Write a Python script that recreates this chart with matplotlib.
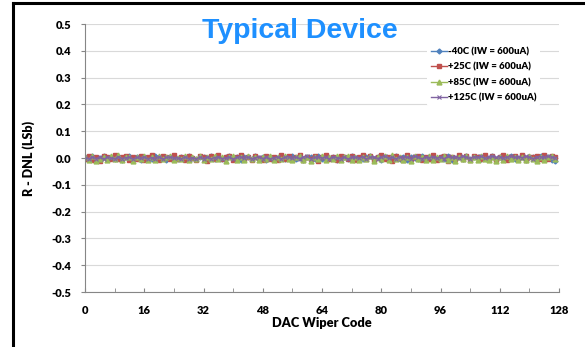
import matplotlib
matplotlib.use("Agg")
import matplotlib.pyplot as plt
from matplotlib.lines import Line2D

plt.rcParams['font.family'] = ['Lato', 'DejaVu Sans']

# DAC wiper codes
codes = list(range(128))

# R-DNL (LSb) per temperature
dnl_m40 = [
    0.002, -0.004, 0.006, -0.003, 0.001, 0.008, -0.005, 0.003, -0.002, 0.005, -0.006, 0.004, 0.009, -0.003, 0.002, -0.007,
    0.005, 0.001, -0.004, 0.006, -0.002, 0.003, -0.008, 0.004, 0.007, -0.003, 0.002, -0.005, 0.006, 0.000, -0.004, 0.005,
    0.003, -0.006, 0.008, -0.002, 0.001, -0.005, 0.004, 0.006, -0.003, 0.002, -0.007, 0.005, 0.003, -0.004, 0.007, -0.001,
    0.002, -0.006, 0.004, 0.001, -0.003, 0.006, -0.005, 0.003, 0.008, -0.002, 0.000, -0.006, 0.005, 0.002, -0.004, 0.007,
    -0.003, 0.004, -0.001, 0.005, -0.006, 0.002, 0.003, -0.004, 0.006, -0.002, 0.001, -0.005, 0.004, 0.007, -0.003, 0.002,
    -0.006, 0.005, 0.001, -0.004, 0.008, -0.002, 0.003, -0.007, 0.004, 0.000, -0.003, 0.006, -0.005, 0.002, 0.005, -0.004,
    0.003, -0.002, 0.006, -0.006, 0.001, 0.004, -0.003, 0.007, -0.005, 0.002, 0.003, -0.004, 0.005, -0.001, 0.008, -0.006,
    0.002, 0.004, -0.003, 0.006, -0.005, 0.001, 0.003, -0.007, 0.005, 0.002, -0.004, 0.009, -0.002, 0.004, -0.008, -0.012,
]
dnl_p25 = [
    -0.003, 0.007, -0.008, 0.004, -0.010, 0.006, 0.002, -0.005, 0.011, -0.004, 0.003, 0.009, -0.006, 0.005, -0.002, 0.008,
    -0.007, 0.004, 0.010, -0.003, -0.009, 0.006, 0.002, -0.005, 0.012, -0.004, 0.003, -0.008, 0.007, 0.001, -0.006, 0.009,
    0.004, -0.010, 0.006, -0.002, 0.011, -0.005, 0.003, 0.008, -0.007, 0.002, 0.010, -0.004, 0.005, -0.009, 0.007, 0.001,
    -0.006, 0.009, -0.003, 0.004, -0.008, 0.012, -0.002, 0.006, -0.005, 0.003, 0.010, -0.007, 0.004, -0.002, 0.008, -0.010,
    0.005, 0.011, -0.004, 0.002, -0.007, 0.009, 0.003, -0.005, 0.006, -0.009, 0.004, 0.010, -0.003, 0.007, -0.006, 0.002,
    0.012, -0.005, 0.003, -0.011, 0.008, 0.001, -0.006, 0.010, -0.003, 0.005, 0.009, -0.008, 0.004, -0.002, 0.011, -0.006,
    0.003, 0.007, -0.010, 0.005, -0.004, 0.012, -0.002, 0.006, -0.007, 0.009, 0.002, -0.005, 0.013, -0.004, 0.006, -0.009,
    0.004, 0.010, -0.006, 0.003, 0.008, -0.004, 0.011, -0.007, 0.005, 0.002, 0.009, -0.005, 0.012, -0.003, 0.006, 0.004,
]
dnl_p85 = [
    0.004, -0.006, 0.009, -0.010, -0.004, 0.003, -0.008, 0.006, -0.002, 0.010, -0.007, 0.002, 0.005, -0.011, 0.004, -0.003,
    0.008, -0.006, 0.002, -0.009, 0.006, -0.004, 0.003, 0.009, -0.007, 0.001, -0.005, 0.007, -0.008, 0.004, -0.002, 0.006,
    -0.009, 0.003, -0.005, 0.008, -0.003, 0.005, -0.010, 0.002, 0.007, -0.006, 0.004, -0.008, 0.009, -0.004, 0.002, -0.007,
    0.005, -0.003, 0.008, -0.009, 0.003, -0.005, 0.006, -0.002, -0.008, 0.004, 0.007, -0.006, 0.003, -0.010, 0.005, -0.004,
    0.008, -0.007, 0.002, -0.005, 0.006, -0.009, 0.004, 0.009, -0.006, 0.003, -0.008, 0.005, -0.003, 0.007, -0.010, 0.002,
    -0.005, 0.006, -0.008, 0.010, -0.004, 0.003, -0.007, 0.005, -0.010, 0.008, -0.002, 0.004, -0.006, 0.009, -0.009, 0.003,
    -0.004, 0.007, -0.008, 0.002, -0.011, 0.005, -0.003, 0.008, -0.006, 0.004, -0.009, 0.006, -0.002, -0.008, 0.005, -0.012,
    0.003, -0.006, 0.007, -0.004, 0.002, -0.009, 0.005, -0.007, 0.008, -0.003, -0.010, 0.004, -0.006, 0.002, 0.007, -0.005,
]
dnl_p125 = [
    0.001, -0.003, 0.004, -0.002, 0.003, -0.004, 0.002, 0.000, -0.003, 0.005, -0.002, 0.001, 0.003, -0.004, 0.002, -0.001,
    0.004, -0.003, 0.001, -0.002, 0.005, -0.004, 0.002, 0.003, -0.001, 0.000, -0.003, 0.004, -0.002, 0.001, -0.004, 0.003,
    -0.002, 0.004, -0.003, 0.001, 0.005, -0.002, 0.000, 0.003, -0.004, 0.002, 0.004, -0.001, 0.003, -0.003, 0.001, 0.005,
    -0.002, 0.003, -0.004, 0.001, 0.004, -0.003, 0.002, 0.005, -0.001, 0.003, -0.002, 0.004, 0.006, -0.003, 0.002, 0.004,
    -0.001, 0.003, -0.003, 0.005, 0.001, -0.002, 0.004, -0.004, 0.002, 0.003, -0.001, 0.005, -0.003, 0.002, 0.004, -0.002,
    0.003, 0.006, -0.001, 0.002, -0.003, 0.005, 0.001, 0.004, -0.002, 0.007, 0.002, -0.003, 0.004, 0.001, 0.005, -0.001,
    0.003, -0.002, 0.006, 0.002, 0.004, -0.001, 0.008, 0.003, -0.002, 0.005, 0.002, 0.006, -0.001, 0.004, 0.007, 0.002,
    0.005, -0.001, 0.003, 0.006, 0.002, 0.004, 0.001, 0.007, 0.003, -0.002, 0.005, 0.004, 0.002, 0.006, 0.003, 0.001,
]

series_labels = ['-40C (IW = 600uA)', '+25C (IW = 600uA)', '+85C (IW = 600uA)', '+125C (IW = 600uA)']
y_ticks = [-0.5, -0.4, -0.3, -0.2, -0.1, 0.0, 0.1, 0.2, 0.3, 0.4, 0.5]
x_ticks = [0, 16, 32, 48, 64, 80, 96, 112, 128]

fig = plt.figure(figsize=(5.85, 3.47), dpi=100)
ax = fig.add_axes([0.1453, 0.1585, 0.8103, 0.7723])

styles = [
    dict(color='#4F81BD', marker='D', markersize=2.5),
    dict(color='#C0504D', marker='s', markersize=3.5),
    dict(color='#9BBB59', marker='^', markersize=3.5),
    dict(color='#8064A2', marker='x', markersize=3.5, markeredgewidth=0.8),
]
for vals, lab, st in zip([dnl_m40, dnl_p25, dnl_p85, dnl_p125], series_labels, styles):
    ax.plot(codes, vals, linewidth=1.0, label=lab, **st)

ax.set_xlim(0, 128)
ax.set_ylim(-0.5, 0.5)
ax.set_yticks(y_ticks)
ax.set_yticklabels([f'{v:.1f}' for v in y_ticks])
ax.set_xticks(x_ticks)
ax.set_xticks(list(range(0, 129, 8)), minor=True)
ax.grid(axis='y', color='#D9D9D9', linewidth=0.8)
ax.set_axisbelow(True)

for s in ['top', 'right']:
    ax.spines[s].set_visible(False)
for s in ['left', 'bottom']:
    ax.spines[s].set_color('#868686')
    ax.spines[s].set_linewidth(0.8)
ax.tick_params(axis='y', direction='out', length=3, color='#868686', labelsize=8, pad=7)
ax.tick_params(axis='x', which='both', direction='in', length=3, color='#868686', labelsize=8, pad=9)
for lbl in ax.get_xticklabels() + ax.get_yticklabels():
    lbl.set_fontweight('heavy')

ax.set_xlabel('DAC Wiper Code', fontsize=9.2, fontweight='heavy', labelpad=1)
ax.set_ylabel('R - DNL (LSb)', fontsize=9, fontweight='heavy', labelpad=12)

fig.text(300 / 585, 1 - 31 / 347, 'Typical Device', color='#1E90FF', fontsize=20.5,
         fontweight='bold', family='Liberation Sans', ha='center', va='center')

leg = ax.legend(loc='upper right', bbox_to_anchor=(0.97, 0.945), frameon=True, fontsize=6.9,
                handlelength=1.7, handletextpad=0.05, labelspacing=0.65, borderpad=0.4)
leg.get_frame().set_edgecolor('none')
leg.get_frame().set_facecolor('white')
leg.get_frame().set_alpha(1.0)
for t in leg.get_texts():
    t.set_fontweight('heavy')

# black frame edges visible at left and top
fig.add_artist(Line2D([13 / 585, 13 / 585], [0, 1 - 3 / 347], color='black', linewidth=2.2,
                      transform=fig.transFigure))
fig.add_artist(Line2D([13 / 585, 1], [1 - 3 / 347, 1 - 3 / 347], color='black', linewidth=2.2,
                      transform=fig.transFigure))

fig.savefig('out.png', dpi=100)
